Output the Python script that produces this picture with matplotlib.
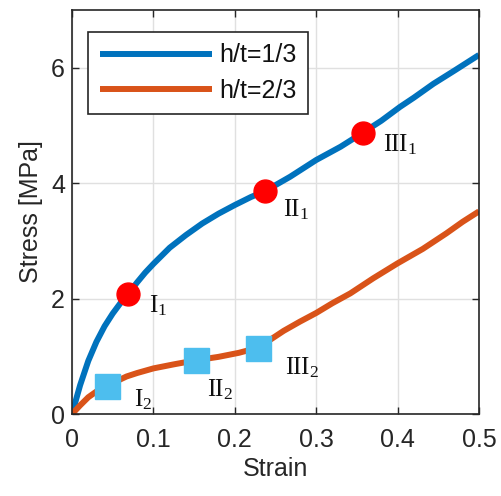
import matplotlib
matplotlib.use('Agg')
import matplotlib.pyplot as plt

plt.rcParams['font.family'] = ['Liberation Sans', 'DejaVu Sans']
plt.rcParams['mathtext.fontset'] = 'custom'
plt.rcParams['mathtext.rm'] = 'Liberation Serif'
plt.rcParams['mathtext.it'] = 'Liberation Serif:italic'

# h/t = 1/3
strain_1 = [0.0, 0.01, 0.02, 0.03, 0.04, 0.05, 0.06, 0.069, 0.08, 0.09, 0.1, 0.12, 0.14,
            0.16, 0.18, 0.2, 0.22, 0.237, 0.268, 0.3, 0.33, 0.357, 0.38, 0.403, 0.42,
            0.444, 0.47, 0.5]
stress_1 = [0.0, 0.5, 0.92, 1.25, 1.52, 1.74, 1.93, 2.08, 2.28, 2.45, 2.6, 2.88, 3.1,
            3.3, 3.47, 3.62, 3.76, 3.86, 4.11, 4.4, 4.63, 4.87, 5.08, 5.32, 5.48,
            5.72, 5.95, 6.22]
# h/t = 2/3
strain_2 = [0.0, 0.01, 0.02, 0.03, 0.043, 0.055, 0.067, 0.08, 0.1, 0.125, 0.152, 0.18,
            0.205, 0.229, 0.245, 0.26, 0.28, 0.3, 0.32, 0.342, 0.37, 0.4, 0.431, 0.46,
            0.48, 0.5]
stress_2 = [0.0, 0.15, 0.29, 0.39, 0.48, 0.57, 0.65, 0.71, 0.79, 0.86, 0.93, 0.99,
            1.06, 1.15, 1.3, 1.44, 1.6, 1.75, 1.92, 2.09, 2.35, 2.61, 2.86, 3.13,
            3.33, 3.51]

pts_1_x = [0.069, 0.237, 0.357]
pts_1_y = [2.08, 3.86, 4.87]
pts_1_lab = [r'$\mathrm{I}_1$', r'$\mathrm{II}_1$', r'$\mathrm{III}_1$']
pts_2_x = [0.043, 0.152, 0.229]
pts_2_y = [0.48, 0.93, 1.15]
pts_2_lab = [r'$\mathrm{I}_2$', r'$\mathrm{II}_2$', r'$\mathrm{III}_2$']

fig = plt.figure(figsize=(5.01, 4.96), dpi=100)
ax = fig.add_axes([0.1437, 0.1653, 0.8123, 0.8147])

ax.plot(strain_1, stress_1, color='#0072BD', linewidth=4.3, label='h/t=1/3',
        solid_capstyle='butt', solid_joinstyle='round')
ax.plot(strain_2, stress_2, color='#D95319', linewidth=4.3, label='h/t=2/3',
        solid_capstyle='butt', solid_joinstyle='round')

ax.plot(pts_1_x, pts_1_y, 'o', color='#FF0000', markersize=16.5, linestyle='none')
ax.plot(pts_2_x, pts_2_y, 's', color='#4DBEEE', markersize=18, linestyle='none')

# label offsets in points (x right, y up), baseline aligned
offs_1 = [(15, -13.5), (13, -18), (14.5, -13.5)]
offs_2 = [(19.5, -14.5), (8, -26), (19.5, -19)]
for x, y, s, o in zip(pts_1_x, pts_1_y, pts_1_lab, offs_1):
    ax.annotate(s, (x, y), xytext=o, textcoords='offset points', fontsize=18,
                va='baseline', ha='left', color='#111111')
for x, y, s, o in zip(pts_2_x, pts_2_y, pts_2_lab, offs_2):
    ax.annotate(s, (x, y), xytext=o, textcoords='offset points', fontsize=18,
                va='baseline', ha='left', color='#111111')

ax.set_xlim(0, 0.5)
ax.set_ylim(0, 7)
ax.set_xticks([0, 0.1, 0.2, 0.3, 0.4, 0.5])
ax.set_xticklabels(['0', '0.1', '0.2', '0.3', '0.4', '0.5'])
ax.set_yticks([0, 2, 4, 6])
ax.tick_params(direction='in', top=True, right=True, labelsize=18, length=5, width=1,
               pad=5, colors='#262626')
ax.tick_params(axis='x', pad=10)
ax.grid(True, color='#e0e0e0', linewidth=1)
ax.set_axisbelow(True)
for sp in ax.spines.values():
    sp.set_linewidth(1.2)
    sp.set_color('#262626')
ax.set_xlabel('Strain', fontsize=18, color='#262626', labelpad=4)
ax.set_ylabel('Stress [MPa]', fontsize=18, color='#262626', labelpad=6)

leg = ax.legend(loc='upper left', bbox_to_anchor=(0.04, 0.945), fontsize=18, fancybox=False,
                edgecolor='#262626', framealpha=1, handlelength=4.5, borderpad=0.45,
                labelspacing=0.45, handletextpad=0.3, borderaxespad=0)
leg.get_frame().set_linewidth(1.2)
for t in leg.get_texts():
    t.set_color('#111111')

fig.savefig('out.png', dpi=100)
